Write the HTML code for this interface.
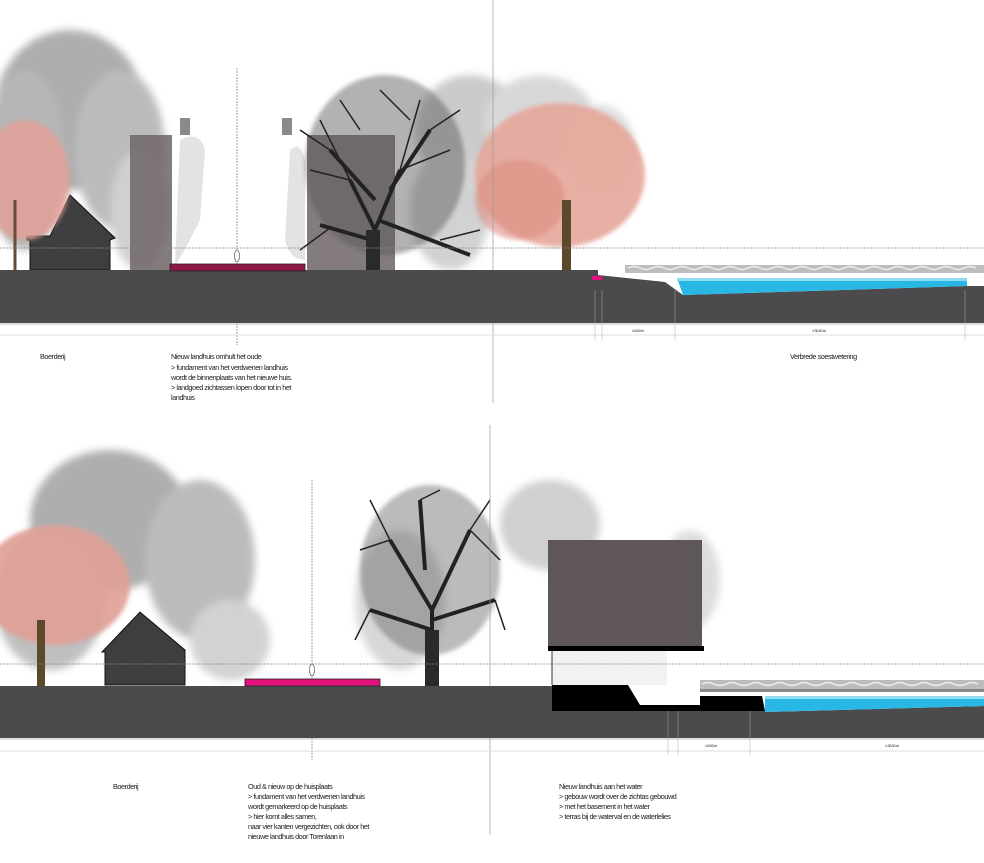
<!DOCTYPE html>
<html><head><meta charset="utf-8"><style>
html,body{margin:0;padding:0;background:#fff;width:984px;height:863px;overflow:hidden}
svg{display:block}
text{font-family:"Liberation Sans",sans-serif;font-size:7.3px;fill:#222;letter-spacing:-0.45px}
</style></head><body>
<svg width="984" height="863" viewBox="0 0 984 863" xmlns="http://www.w3.org/2000/svg">
<defs>
<filter id="b" x="-20%" y="-20%" width="140%" height="140%"><feGaussianBlur stdDeviation="4"/></filter>
<filter id="b2" x="-20%" y="-20%" width="140%" height="140%"><feGaussianBlur stdDeviation="2"/></filter>
</defs>

<!-- ===== TOP SECTION ===== -->
<g filter="url(#b)" opacity="0.85">
<ellipse cx="70" cy="110" rx="75" ry="80" fill="#a0a0a0"/>
<ellipse cx="25" cy="160" rx="40" ry="90" fill="#aaa"/>
<ellipse cx="120" cy="150" rx="45" ry="80" fill="#b0b0b0"/>
<ellipse cx="140" cy="210" rx="30" ry="60" fill="#c8c8c8"/>
<ellipse cx="470" cy="130" rx="55" ry="55" fill="#c2c2c2"/>
<ellipse cx="540" cy="120" rx="55" ry="45" fill="#d2d2d2"/>
<ellipse cx="600" cy="150" rx="35" ry="45" fill="#d8d8d8"/>
<ellipse cx="450" cy="210" rx="40" ry="60" fill="#cbcbcb"/>
</g>
<rect x="130" y="135" width="42" height="135" fill="#6e6466" opacity="0.85"/>
<rect x="307" y="135" width="88" height="135" fill="#6e6466" opacity="0.85"/>
<rect x="172" y="135" width="135" height="135" fill="#fff"/>
<path d="M180 140 Q200 130 205 150 L200 220 Q180 260 175 265 Z" fill="#e2e3e3"/>
<path d="M290 150 Q300 140 305 160 L305 260 Q290 260 285 240 Z" fill="#e2e3e3"/>
<rect x="180" y="118" width="10" height="17" fill="#8a8a8a"/>
<rect x="282" y="118" width="10" height="17" fill="#8a8a8a"/>
<path d="M30 270 L30 240 L27 240 L27 236 L50 236 L70 195 L115 238 L110 240 L110 270 Z" fill="#3e3e40" stroke="#111" stroke-width="1"/>
<g filter="url(#b2)">
<ellipse cx="25" cy="180" rx="45" ry="60" fill="#e0a096" opacity="0.85"/>
</g>
<line x1="15" y1="270" x2="15" y2="200" stroke="#6a4a3a" stroke-width="3"/>
<g filter="url(#b2)">
<ellipse cx="385" cy="165" rx="80" ry="90" fill="#555" opacity="0.45"/>
</g>
<g stroke="#222" fill="none">
<path d="M370 272 L375 230 L350 180 M375 230 L400 170 M378 220 L470 255 M375 200 L330 150 M390 190 L430 130 M372 240 L320 225" stroke-width="4"/>
<path d="M350 180 L320 120 M350 180 L310 170 M400 170 L420 100 M400 170 L450 150 M430 130 L460 110 M330 150 L300 130 M440 240 L480 230 M330 228 L300 250 M410 120 L380 90 M360 130 L340 100" stroke-width="1.5"/>
</g>
<rect x="366" y="230" width="14" height="42" fill="#2a2a2a"/>
<g filter="url(#b2)">
<ellipse cx="560" cy="175" rx="85" ry="72" fill="#e6a69a" opacity="0.9"/>
<ellipse cx="520" cy="200" rx="45" ry="40" fill="#dc8c80" opacity="0.6"/>
</g>
<rect x="562" y="200" width="9" height="72" fill="#5a4a2a"/>
<line x1="0" y1="248" x2="984" y2="248" stroke="#888" stroke-width="0.7" stroke-dasharray="2,1"/>
<line x1="237" y1="68" x2="237" y2="345" stroke="#777" stroke-width="0.7" stroke-dasharray="2,1"/>
<line x1="493" y1="0" x2="493" y2="403" stroke="#999" stroke-width="0.7"/>
<path d="M0 270 L598 270 L598 275 L665 282 L683 295 L967 286 L984 286 L984 323 L0 323 Z" fill="#4b4b4d"/>
<path d="M677 278 L967 278 L967 286 L683 295 Z" fill="#29b7e3"/>
<path d="M677 278 L967 278 L967 281 L677 281 Z" fill="#8fdcf2"/>
<rect x="625" y="265" width="359" height="8" fill="#bdbdbd"/>
<path d="M628 268 q6 -3 12 0 t12 0 t12 0 t12 0 t12 0 t12 0 t12 0 t12 0 t12 0 t12 0 t12 0 t12 0 t12 0 t12 0 t12 0 t12 0 t12 0 t12 0 t12 0 t12 0 t12 0 t12 0 t12 0 t12 0 t12 0 t12 0 t12 0 t12 0 t12 0" stroke="#eee" fill="none" stroke-width="1.5"/>
<rect x="592" y="276" width="10" height="4" fill="#e0117a"/>
<rect x="170" y="264" width="135" height="7" fill="#8e1a4a" stroke="#222" stroke-width="0.8"/>
<ellipse cx="237" cy="256" rx="2.5" ry="6" fill="#fff" stroke="#333" stroke-width="0.6"/>
<line x1="0" y1="324" x2="984" y2="324" stroke="#bbb" stroke-width="1"/>
<line x1="0" y1="335" x2="984" y2="335" stroke="#ddd" stroke-width="1"/>
<line x1="595" y1="290" x2="595" y2="340" stroke="#aaa" stroke-width="0.5"/>
<line x1="602" y1="290" x2="602" y2="340" stroke="#aaa" stroke-width="0.5"/>
<line x1="675" y1="290" x2="675" y2="340" stroke="#aaa" stroke-width="0.5"/>
<line x1="965" y1="290" x2="965" y2="340" stroke="#aaa" stroke-width="0.5"/>
<text x="632" y="332" style="font-size:4px">± 8.00 m</text>
<text x="812" y="332" style="font-size:4px">± 32.00 m</text>
<text x="40" y="359">Boerderij</text>
<text x="171" y="359">Nieuw landhuis omhult het oude</text>
<text x="171" y="370">&gt; fundament van het verdwenen landhuis</text>
<text x="171" y="380">wordt de binnenplaats van het nieuwe huis.</text>
<text x="171" y="390">&gt; landgoed zichtassen lopen door tot in het</text>
<text x="171" y="400">landhuis</text>
<text x="790" y="359">Verbrede soestwetering</text>

<!-- ===== BOTTOM SECTION ===== -->
<g filter="url(#b)" opacity="0.85">
<ellipse cx="110" cy="520" rx="80" ry="70" fill="#a0a0a0"/>
<ellipse cx="200" cy="560" rx="55" ry="80" fill="#b0b0b0"/>
<ellipse cx="50" cy="600" rx="55" ry="70" fill="#b5b5b5"/>
<ellipse cx="230" cy="640" rx="40" ry="40" fill="#cbcbcb"/>
<ellipse cx="550" cy="525" rx="50" ry="45" fill="#c8c8c8"/>
<ellipse cx="690" cy="580" rx="30" ry="50" fill="#d8d8d8"/>
<ellipse cx="400" cy="600" rx="45" ry="70" fill="#d2d2d2"/>
</g>
<path d="M105 685 L105 652 L102 652 L140 612 L185 650 L185 685 Z" fill="#3e3e40" stroke="#111" stroke-width="1"/>
<g filter="url(#b2)">
<ellipse cx="55" cy="585" rx="75" ry="60" fill="#e0a096" opacity="0.9"/>
</g>
<rect x="37" y="620" width="8" height="68" fill="#5a4a2a"/>
<g filter="url(#b2)">
<ellipse cx="430" cy="570" rx="70" ry="85" fill="#555" opacity="0.4"/>
</g>
<g stroke="#222" fill="none">
<path d="M432 688 L432 610 L390 540 M432 610 L470 530 M432 630 L370 610 M432 620 L495 600 M425 570 L420 500" stroke-width="4"/>
<path d="M390 540 L370 500 M390 540 L360 550 M470 530 L490 500 M470 530 L500 560 M420 500 L440 490 M370 610 L355 640 M495 600 L505 630" stroke-width="1.5"/>
</g>
<rect x="425" y="630" width="14" height="58" fill="#2a2a2a"/>
<rect x="548" y="540" width="154" height="106" fill="#5e5657"/>
<rect x="552" y="651" width="115" height="34" fill="#f2f2f2"/>
<rect x="667" y="651" width="35" height="45" fill="#fff"/>
<rect x="548" y="646" width="156" height="5" fill="#000"/>
<line x1="552" y1="651" x2="552" y2="685" stroke="#333" stroke-width="1"/>
<path d="M552 685 L628 685 L640 705 L700 705 L700 696 L762 696 L765 711 L552 711 Z" fill="#000"/>
<path d="M628 685 l4 0 l0 4 l4 0 l0 4 l4 0 l0 4 l4 0 l0 4 l4 0" stroke="#fff" fill="none" stroke-width="1"/>
<line x1="0" y1="664" x2="984" y2="664" stroke="#888" stroke-width="0.7" stroke-dasharray="2,1"/>
<line x1="312" y1="480" x2="312" y2="760" stroke="#777" stroke-width="0.7" stroke-dasharray="2,1"/>
<line x1="490" y1="425" x2="490" y2="835" stroke="#999" stroke-width="0.7"/>
<path d="M0 686 L552 686 L552 711 L765 711 L765 712 L984 706 L984 738 L0 738 Z" fill="#4b4b4d"/>
<path d="M765 696 L984 696 L984 706 L765 712 Z" fill="#29b7e3"/>
<rect x="765" y="696" width="219" height="3" fill="#8fdcf2"/>
<rect x="700" y="680" width="284" height="9" fill="#bdbdbd"/>
<path d="M702 684 q6 -3 12 0 t12 0 t12 0 t12 0 t12 0 t12 0 t12 0 t12 0 t12 0 t12 0 t12 0 t12 0 t12 0 t12 0 t12 0 t12 0 t12 0 t12 0 t12 0 t12 0 t12 0 t12 0 t12 0" stroke="#eee" fill="none" stroke-width="1.5"/>
<rect x="700" y="689" width="284" height="3" fill="#888"/>
<rect x="245" y="679" width="135" height="7" fill="#e0117a" stroke="#222" stroke-width="0.8"/>
<ellipse cx="312" cy="670" rx="2.5" ry="6" fill="#fff" stroke="#333" stroke-width="0.6"/>
<line x1="0" y1="739" x2="984" y2="739" stroke="#bbb" stroke-width="1"/>
<line x1="0" y1="751" x2="984" y2="751" stroke="#ddd" stroke-width="1"/>
<line x1="668" y1="711" x2="668" y2="755" stroke="#aaa" stroke-width="0.5"/>
<line x1="678" y1="711" x2="678" y2="755" stroke="#aaa" stroke-width="0.5"/>
<line x1="750" y1="711" x2="750" y2="755" stroke="#aaa" stroke-width="0.5"/>
<text x="705" y="747" style="font-size:4px">± 8.00 m</text>
<text x="885" y="747" style="font-size:4px">± 32.00 m</text>
<text x="113" y="789">Boerderij</text>
<text x="248" y="789">Oud &amp; nieuw op de huisplaats</text>
<text x="248" y="799">&gt; fundament van het verdwenen landhuis</text>
<text x="248" y="809">wordt gemarkeerd op de huisplaats</text>
<text x="248" y="819">&gt; hier komt alles samen,</text>
<text x="248" y="829">naar vier kanten vergezichten, ook door het</text>
<text x="248" y="839">nieuwe landhuis door Torenlaan in</text>
<text x="559" y="789">Nieuw landhuis aan het water</text>
<text x="559" y="799">&gt; gebouw wordt over de zichtas gebouwd</text>
<text x="559" y="809">&gt; met het basement in het water</text>
<text x="559" y="819">&gt; terras bij de waterval en de waterlelies</text>
</svg>
</body></html>
